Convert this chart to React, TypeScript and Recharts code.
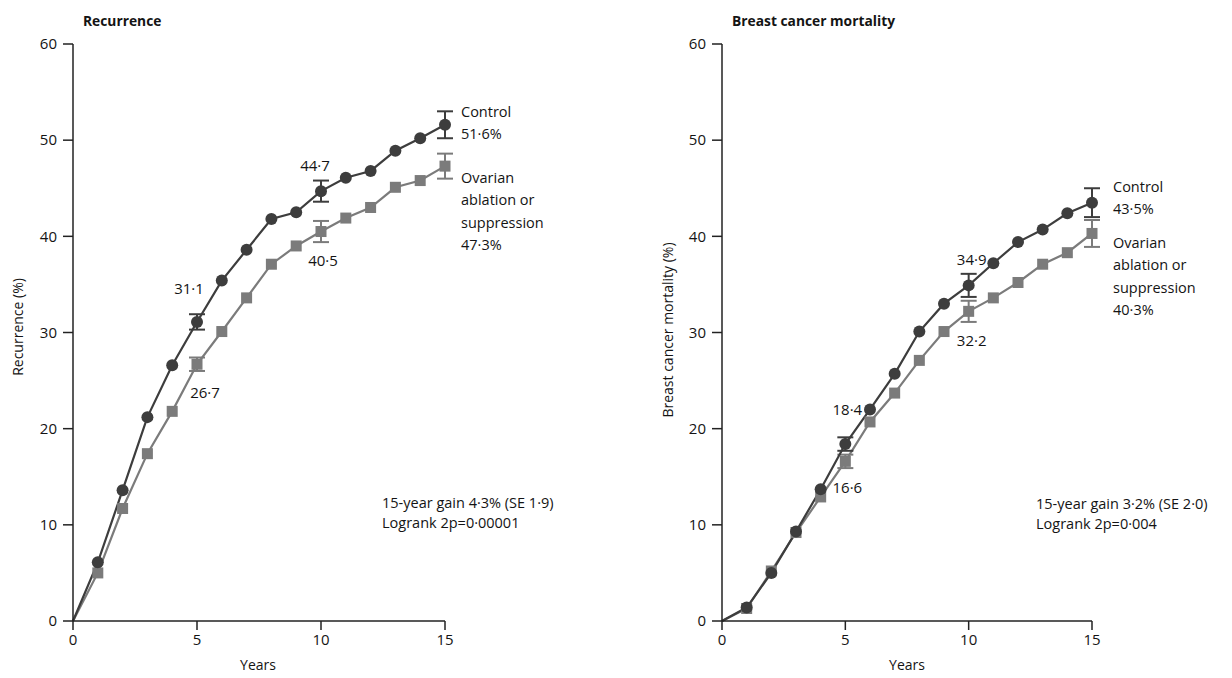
import React from 'react';
import { LineChart, Line, XAxis, YAxis, ErrorBar } from 'recharts';

const years = [0, 1, 2, 3, 4, 5, 6, 7, 8, 9, 10, 11, 12, 13, 14, 15];

const recurrenceControl = [0, 6.1, 13.6, 21.2, 26.6, 31.1, 35.4, 38.6, 41.8, 42.5, 44.7, 46.1, 46.8, 48.9, 50.2, 51.6];
const recurrenceOvarian = [0, 5.0, 11.7, 17.4, 21.8, 26.7, 30.1, 33.6, 37.1, 39.0, 40.5, 41.9, 43.0, 45.1, 45.8, 47.3];
const recurrenceControlErr = [null, null, null, null, null, 0.8, null, null, null, null, 1.1, null, null, null, null, 1.4];
const recurrenceOvarianErr = [null, null, null, null, null, 0.7, null, null, null, null, 1.1, null, null, null, null, 1.3];

const mortalityControl = [0, 1.4, 5.0, 9.3, 13.7, 18.4, 22.0, 25.7, 30.1, 33.0, 34.9, 37.2, 39.4, 40.7, 42.4, 43.5];
const mortalityOvarian = [0, 1.3, 5.2, 9.2, 12.9, 16.6, 20.7, 23.7, 27.1, 30.1, 32.2, 33.6, 35.2, 37.1, 38.3, 40.3];
const mortalityControlErr = [null, null, null, null, null, 0.7, null, null, null, null, 1.2, null, null, null, null, 1.5];
const mortalityOvarianErr = [null, null, null, null, null, 0.7, null, null, null, null, 1.1, null, null, null, null, 1.4];

const xTicks = [0, 5, 10, 15];
const yTicks = [0, 10, 20, 30, 40, 50, 60];
const labelledYears = [5, 10];

const controlName = ['Control'];
const ovarianName = ['Ovarian', 'ablation or', 'suppression'];

const FONT = '"Open Sans", "Noto Sans", sans-serif';
const DARK = '#3d3d3d';
const LIGHT = '#7b7b7b';
const INK = '#141414';

const fmt = (v: number) => v.toFixed(1).replace('.', '·');

function buildRows(c: number[], o: number[], ce: (number | null)[], oe: (number | null)[]) {
  return years.map((y, i) => ({ year: y, control: c[i], ovarian: o[i], controlErr: ce[i], ovarianErr: oe[i] }));
}

type Off = { dx: number; dy: number };
type PanelProps = {
  rows: any[];
  left: number;
  marginLeft: number;
  marginRight: number;
  ctrlLabelOff: Record<number, Off>;
  ovLabelOff: Record<number, Off>;
  ctrlEndOff: Off;
  ovEndOff: Off;
};

function makeDot(kind: 'circle' | 'square', color: string, labelOff: Record<number, Off>, endOff: Off, names: string[], last: number) {
  return (props: any) => {
    const { cx, cy, index, payload } = props;
    if (index === 0 || cx == null || cy == null) return <g key={`d-${kind}-${index}`} />;
    const val = payload[kind === 'circle' ? 'control' : 'ovarian'];
    const lab = labelledYears.includes(payload.year) ? labelOff[payload.year] : null;
    return (
      <g key={`d-${kind}-${index}`}>
        {kind === 'circle' ? (
          <circle cx={cx} cy={cy} r={6} fill={color} stroke="none" />
        ) : (
          <rect x={cx - 5.5} y={cy - 5.5} width={11} height={11} fill={color} stroke="none" />
        )}
        {lab && (
          <text x={cx + lab.dx} y={cy + lab.dy} textAnchor="middle" dominantBaseline="central" fontFamily={FONT} fontSize={15} fill={INK}>
            {fmt(val)}
          </text>
        )}
        {index === last && (
          <text x={cx + endOff.dx} y={cy + endOff.dy} fontFamily={FONT} fontSize={14.5} fill={INK} dominantBaseline="central">
            {[...names, `${fmt(val)}%`].map((t, i) => (
              <tspan key={i} x={cx + endOff.dx} dy={i === 0 ? 0 : 22.3}>{t}</tspan>
            ))}
          </text>
        )}
      </g>
    );
  };
}

function Panel(p: PanelProps) {
  const last = p.rows.length - 1;
  return (
    <div style={{ position: 'absolute', left: p.left, top: 0 }}>
      <LineChart width={620} height={678} data={p.rows} margin={{ top: 44, right: p.marginRight, bottom: 27, left: p.marginLeft }}>
        <XAxis
          dataKey="year"
          type="number"
          domain={[0, 15]}
          ticks={xTicks}
          height={30}
          stroke="#222"
          strokeWidth={1.5}
          tickSize={9}
          tickMargin={4}
          tick={{ fontFamily: FONT, fontSize: 15, fill: INK }}
          interval={0}
        />
        <YAxis
          type="number"
          domain={[0, 60]}
          ticks={yTicks}
          width={40}
          stroke="#222"
          strokeWidth={1.5}
          tickSize={10}
          tickMargin={6}
          tick={{ fontFamily: FONT, fontSize: 15, fill: INK }}
          interval={0}
        />
        <Line
          dataKey="ovarian"
          type="linear"
          stroke={LIGHT}
          strokeWidth={2.2}
          isAnimationActive={false}
          dot={makeDot('square', LIGHT, p.ovLabelOff, p.ovEndOff, ovarianName, last)}
          activeDot={false}
        >
          <ErrorBar dataKey="ovarianErr" direction="y" width={8} stroke={LIGHT} strokeWidth={2} isAnimationActive={false} />
        </Line>
        <Line
          dataKey="control"
          type="linear"
          stroke={DARK}
          strokeWidth={2.2}
          isAnimationActive={false}
          dot={makeDot('circle', DARK, p.ctrlLabelOff, p.ctrlEndOff, controlName, last)}
          activeDot={false}
        >
          <ErrorBar dataKey="controlErr" direction="y" width={8} stroke={DARK} strokeWidth={2} isAnimationActive={false} />
        </Line>
      </LineChart>
    </div>
  );
}

export default function App() {
  const recRows = buildRows(recurrenceControl, recurrenceOvarian, recurrenceControlErr, recurrenceOvarianErr);
  const morRows = buildRows(mortalityControl, mortalityOvarian, mortalityControlErr, mortalityOvarianErr);
  return (
    <div style={{ position: 'absolute', left: 0, top: 0, width: 1232, height: 678, background: '#fff', fontFamily: FONT }}>
      <Panel
        rows={recRows}
        left={0}
        marginLeft={33}
        marginRight={175}
        ctrlLabelOff={{ 5: { dx: -8, dy: -34 }, 10: { dx: -6, dy: -26 } }}
        ovLabelOff={{ 5: { dx: 8, dy: 28 }, 10: { dx: 2, dy: 28 } }}
        ctrlEndOff={{ dx: 16, dy: -14 }}
        ovEndOff={{ dx: 16, dy: 11 }}
      />
      <Panel
        rows={morRows}
        left={640}
        marginLeft={42}
        marginRight={168}
        ctrlLabelOff={{ 5: { dx: 2, dy: -35 }, 10: { dx: 3, dy: -26 } }}
        ovLabelOff={{ 5: { dx: 2, dy: 26 }, 10: { dx: 3, dy: 29 } }}
        ctrlEndOff={{ dx: 21, dy: -17 }}
        ovEndOff={{ dx: 21, dy: 8.5 }}
      />
      <svg width={1232} height={678} style={{ position: 'absolute', left: 0, top: 0, pointerEvents: 'none' }}>
        <g fontFamily={FONT} fill={INK}>
          <text x={83} y={20} fontSize={13.8} fontWeight="bold" dominantBaseline="central">Recurrence</text>
          <text x={732} y={20} fontSize={13.8} fontWeight="bold" dominantBaseline="central">Breast cancer mortality</text>
          <text transform="translate(17,327) rotate(-90)" textAnchor="middle" dominantBaseline="central" fontSize={14}>Recurrence (%)</text>
          <text transform="translate(667,330) rotate(-90)" textAnchor="middle" dominantBaseline="central" fontSize={14}>Breast cancer mortality (%)</text>
          <text x={258} y={664} textAnchor="middle" dominantBaseline="central" fontSize={14}>Years</text>
          <text x={907} y={664} textAnchor="middle" dominantBaseline="central" fontSize={14}>Years</text>
          <text x={382} y={502} dominantBaseline="central" fontSize={14.5}>15-year gain 4·3% (SE 1·9)</text>
          <text x={382} y={522} dominantBaseline="central" fontSize={14.5}>Logrank 2p=0·00001</text>
          <text x={1036} y={503} dominantBaseline="central" fontSize={14.5}>15-year gain 3·2% (SE 2·0)</text>
          <text x={1036} y={523} dominantBaseline="central" fontSize={14.5}>Logrank 2p=0·004</text>
        </g>
      </svg>
    </div>
  );
}
